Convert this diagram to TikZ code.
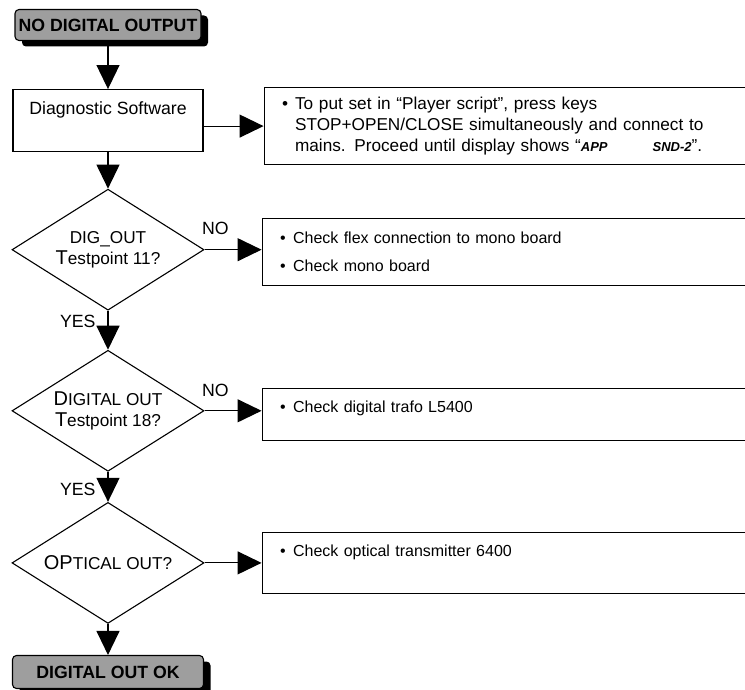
\documentclass[tikz,border=0pt]{standalone}
\usepackage{fontspec}
\setmainfont{Liberation Sans}
\usetikzlibrary{positioning,arrows.meta,shapes.geometric,shadows}
\newcommand{\capx}[1]{{\fontsize{20}{21}\selectfont #1}}
\newcommand{\bul}{\makebox[13pt][l]{\textbullet}}
\newcommand{\ind}{\hspace*{13pt}}

\begin{document}
\begin{tikzpicture}[
  font=\fontsize{17.7}{21}\selectfont,
  >={Triangle[length=24pt,width=23pt]},
  line width=1.1pt,
  term/.style={draw, rounded corners=4pt, fill=black!38, font=\fontsize{17.7}{21}\selectfont\bfseries, inner sep=0pt, minimum height=31pt, drop shadow={shadow xshift=7pt, shadow yshift=-6pt, fill=black, opacity=1}},
  proc/.style={draw, inner xsep=0pt, inner ysep=8pt, minimum width=190pt, text height=17pt, text depth=29pt},
  decide/.style={draw, diamond, aspect=1.6, inner sep=0pt, minimum width=192pt, minimum height=121pt, align=center, font=\fontsize{17.2}{21}\selectfont},
  note/.style={draw, inner xsep=18pt, text width=461pt, align=left, font=\fontsize{16}{20}\selectfont},
  lbl/.style={inner sep=0pt},
  link/.style={->}
]
\useasboundingbox (0,0) rectangle (745pt,-690pt);
% start and diagnostic mode
\node[term, minimum width=186pt] (start) at (108pt,-25pt) {NO DIGITAL OUTPUT};
\node[proc, below=48pt of start] (diag) {Diagnostic Software};
\node[note, font=\fontsize{17.2}{21}\selectfont, inner ysep=0pt, minimum height=77pt, right=60pt of diag, yshift=-5.5pt] (box1)
  {\bul To put set in “Player script”, press keys\\
   \ind STOP+OPEN/CLOSE simultaneously and connect to\\
   \ind mains. Proceed until display shows “{\fontsize{13}{15}\selectfont\bfseries\itshape APP\hspace{45pt}SND-2}”.};
% decisions
\node[decide, below=36.5pt of diag] (d1) {DIG\_OUT\\\capx{T}estpoint 11?};
\node[decide, below=39pt of d1] (d2) {\capx{D}IGITAL OUT\\\capx{T}estpoint 18?};
\node[decide, below=30pt of d2] (d3) {\capx{OP}TICAL OUT?};
\node[term, minimum width=191pt, minimum height=33pt, below=31pt of d3] (okay) {DIGITAL OUT OK};
% checks
\node[note, inner ysep=0pt, minimum height=67pt, right=57pt of d1, yshift=-2pt] (box2)
  {\bul Check flex connection to mono board\\[8pt]
   \bul Check mono board};
\node[note, inner ysep=7pt, text height=17pt, text depth=21pt, right=57pt of d2, yshift=-3.5pt] (box3)
  {\bul Check digital trafo L5400};
\node[note, inner ysep=7pt, text height=17pt, text depth=30pt, right=57pt of d3] (box4)
  {\bul Check optical transmitter 6400};
% labels
\node[lbl, above right=14pt and -3pt of d1.east] (no1) {NO};
\node[lbl, above right=14pt and -3pt of d2.east] (no2) {NO};
\node[lbl, below left=4pt and 12pt of d1.south] (yes1) {YES};
\node[lbl, below left=11pt and 12pt of d2.south] (yes2) {YES};

% edges
\draw[link] (start) -- (diag);
\draw[link] (diag.east |- box1.west) -- (box1.west);
\draw[link] (diag) -- (d1);
\draw[link] (d1.east) -- (d1.east -| box2.west);
\draw[link] (d1) -- (d2);
\draw[link] (d2.east) -- (d2.east -| box3.west);
\draw[link] (d2) -- (d3);
\draw[link] (d3.east) -- (d3.east -| box4.west);
\draw[link] (d3) -- (okay);
\end{tikzpicture}
\end{document}
